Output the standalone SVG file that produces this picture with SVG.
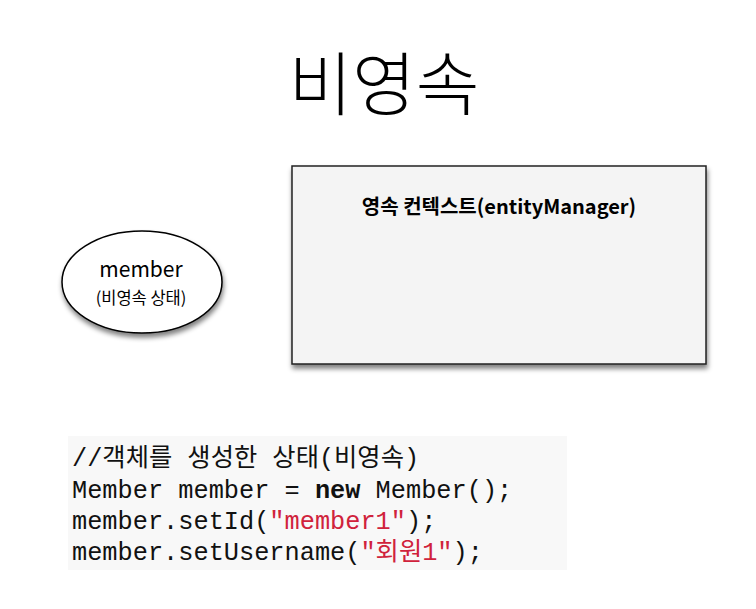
<svg xmlns="http://www.w3.org/2000/svg" width="756" height="609" viewBox="0 0 756 609">
<style>
.kr{font-family:"Noto Sans CJK KR","Liberation Sans",sans-serif;fill:#000}
.code{font-family:"Liberation Mono","Noto Sans CJK KR",monospace;font-size:25.3px;fill:#111}
.str{fill:#d0223c}
</style>
<defs>
<filter id="sh" x="-10%" y="-10%" width="130%" height="130%">
<feGaussianBlur in="SourceAlpha" stdDeviation="2.5"/>
<feOffset dx="1" dy="4" result="b"/>
<feComponentTransfer><feFuncA type="linear" slope="0.5"/></feComponentTransfer>
<feMerge><feMergeNode/><feMergeNode in="SourceGraphic"/></feMerge>
</filter>
</defs>
<rect width="756" height="609" fill="#fff"/>
<text class="kr" x="384" y="110" font-size="69" font-weight="300" text-anchor="middle">비영속</text>
<g id="member">
<ellipse cx="142" cy="282" rx="80" ry="51" fill="#fff" stroke="#000" stroke-width="1.5" filter="url(#sh)"/>
<text class="kr" x="141" y="277" font-size="21" text-anchor="middle">member</text>
<text class="kr" x="141" y="304" font-size="16.5" text-anchor="middle">(비영속 상태)</text>
</g>
<g id="context">
<rect x="292" y="166" width="414" height="198" fill="#f4f4f4" stroke="#222" stroke-width="1.5" filter="url(#sh)"/>
<text class="kr" x="499" y="214" font-size="20" font-weight="bold" text-anchor="middle">영속 컨텍스트(entityManager)</text>
</g>
<g id="code">
<rect x="68" y="436" width="499" height="134" fill="#f8f8f8"/>
<text class="code" x="72" y="466">//객체를 생성한 상태(비영속)</text>
<text class="code" x="72" y="498">Member member = <tspan font-weight="bold">new</tspan> Member();</text>
<text class="code" x="72" y="529">member.setId(<tspan class="str">"member1"</tspan>);</text>
<text class="code" x="72" y="560">member.setUsername(<tspan class="str">"회원1"</tspan>);</text>
</g>
</svg>
